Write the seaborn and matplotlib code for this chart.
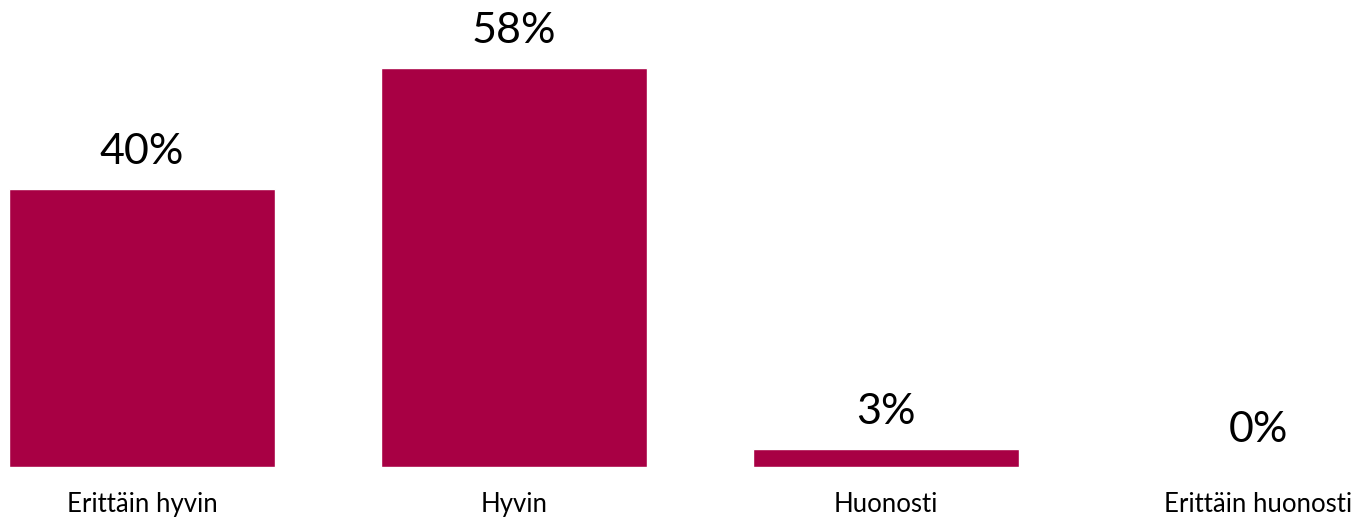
import pandas as pd
import seaborn as sns
import matplotlib.pyplot as plt

categories = ["Erittäin hyvin", "Hyvin", "Huonosti", "Erittäin huonosti"]
values = [40.3, 57.8, 2.6, 0.0]
labels = ["40%", "58%", "3%", "0%"]

BAR_COLOR = "#A80044"

sns.set_style("white")
plt.rcParams["font.family"] = ["Lato", "DejaVu Sans"]

df = pd.DataFrame({"category": categories, "value": values})

fig = plt.figure(figsize=(13.56, 5.18), dpi=100)
ax = fig.add_axes([0, 51 / 518, 1, 467 / 518])
sns.barplot(data=df, x="category", y="value", color=BAR_COLOR, width=0.715,
            saturation=1, ax=ax)

ax.set_xlim(-0.382, 3.263)
ax.set_ylim(0, 67.7)
ax.set_xlabel("")
ax.set_ylabel("")
ax.set_yticks([])
ax.tick_params(axis="x", length=0, labelsize=18.5, pad=18, labelcolor="black")
for s in ax.spines.values():
    s.set_visible(False)

for i, (v, lab) in enumerate(zip(values, labels)):
    ax.annotate(lab, (i, v), xytext=(0, 18), textcoords="offset points",
                ha="center", va="baseline", fontsize=31, color="black")

fig.savefig("out.png", dpi=100)
plt.close(fig)
